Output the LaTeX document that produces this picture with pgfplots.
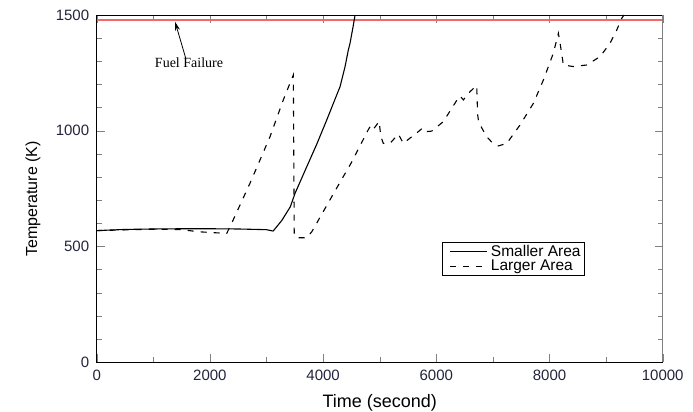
\documentclass[border=0pt]{standalone}
\usepackage{fontspec}
\setmainfont{Liberation Sans}
\newfontfamily\seriffont{Liberation Serif}
\usepackage{pgfplots}
\pgfplotsset{compat=1.18}
\usetikzlibrary{arrows.meta}

\definecolor{tickc}{RGB}{35,35,60}
\definecolor{failred}{RGB}{240,105,105}

\begin{document}
\begin{tikzpicture}
\begin{axis}[
  width=566pt, height=347pt, scale only axis,
  xmin=0, xmax=10000, ymin=0, ymax=1500,
  xtick={0,2000,...,10000}, ytick={0,500,1000,1500},
  minor x tick num=1, minor y tick num=4,
  tick align=inside, major tick length=8pt, minor tick length=5pt,
  scaled x ticks=false,
  /pgf/number format/assume math mode=true,
  /pgf/number format/1000 sep={},
  tick label style={font=\fontsize{15}{15}\selectfont, text=tickc},
  xticklabel style={yshift=-4pt},
  yticklabel style={xshift=-4pt},
  axis line style={black, line width=0.9pt},
  xlabel={Time (second)}, ylabel={Temperature (K)},
  xlabel style={font=\fontsize{18}{18}\selectfont, at={(axis description cs:0.5,-0.117)}, anchor=center},
  ylabel style={font=\fontsize{16}{16}\selectfont, at={(axis description cs:-0.1125,0.47)}, anchor=center},
  legend style={at={(axis description cs:0.610,0.346)}, anchor=north west,
    draw=black, line width=0.8pt, inner xsep=2pt, inner ysep=1.5pt,
    font=\fontsize{15.5}{16}\selectfont, nodes={inner sep=1.5pt}, row sep=-1pt},
  legend cell align=left,
  legend image code/.code={\path (0pt,0pt) (44pt,0pt); \draw[#1, line width=0.8pt] (5pt,0pt) -- (42pt,0pt);},
]
% fuel failure limit
\addplot[failred, line width=1.8pt, forget plot] coordinates {(0,1477) (10000,1477)};

% smaller area
\addplot[black, line width=1.1pt] coordinates {
(0,568) (500,573) (1000,575) (1500,576) (2000,576) (2500,575) (3000,572) (3117,566)
(3268,611) (3421,671) (3504,729) (3711,844) (3887,941) (4064,1046) (4181,1118)
(4299,1190) (4388,1277) (4446,1349) (4476,1378) (4530,1450) (4565,1500)};
\addlegendentry{Smaller Area}

% larger area
\addplot[black, line width=1.1pt, dash pattern=on 6pt off 7pt] coordinates {
(0,568) (1000,574) (1500,572) (1800,563) (2000,560) (2297,556) (2385,600) (2709,773)
(3062,974) (3297,1133) (3474,1241) (3490,545) (3560,537) (3710,537) (3800,563)
(4200,735) (4500,862) (4800,1005) (4850,1025) (4900,1010) (4990,1040) (5020,975)
(5064,945) (5182,945) (5329,985) (5418,945) (5536,968) (5683,996) (5761,1012)
(5830,996) (5919,998) (6124,1039) (6390,1142) (6420,1150) (6478,1133) (6597,1169)
(6714,1195) (6730,1070) (6750,1035) (6891,974) (7000,945) (7097,934) (7245,945)
(7480,1025) (7715,1118) (7892,1219) (8068,1335) (8157,1421) (8187,1378) (8245,1284)
(8422,1277) (8658,1284) (8893,1320) (9070,1378) (9188,1435) (9277,1486) (9315,1500)};
\addlegendentry{Larger Area}

\draw[-{Stealth[length=9pt,width=5pt]}, line width=0.8pt] (axis cs:1578,1309) -- (axis cs:1384,1471);
\node[font=\seriffont\fontsize{14}{14}\selectfont] at (axis cs:1631,1294) {Fuel Failure};
\end{axis}
\draw[gray, line width=1.5pt] (current axis.south east) -- (current axis.north east);
\pgfresetboundingbox
\path (current axis.south west) ++(-96.7pt,-50pt) rectangle ([shift={(30.3pt,15pt)}]current axis.north east);
\end{tikzpicture}
\end{document}
